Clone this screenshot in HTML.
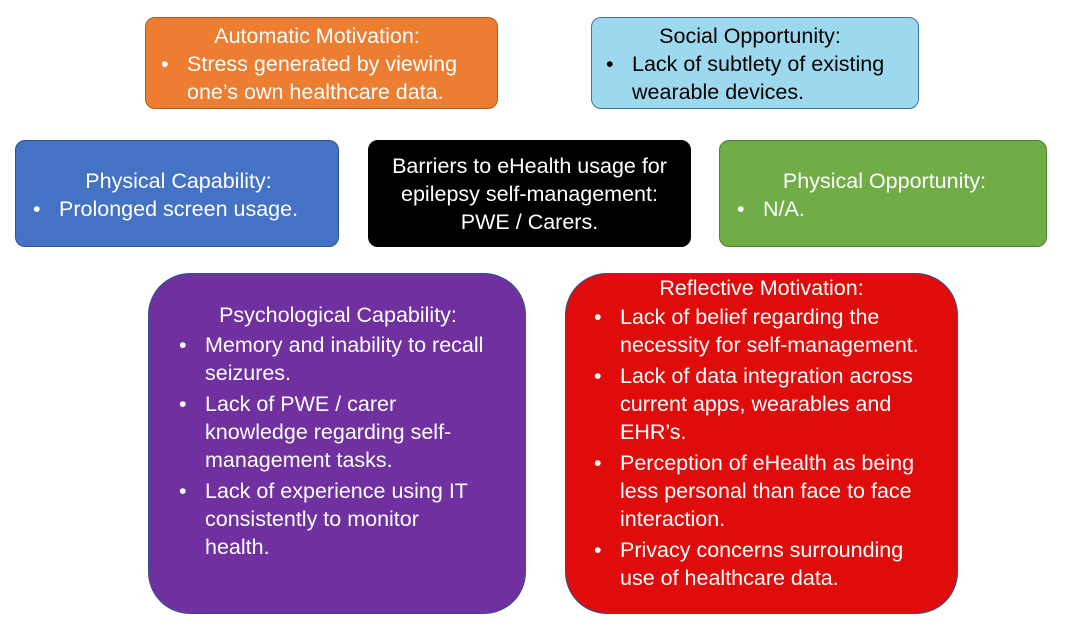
<!DOCTYPE html>
<html><head><meta charset="utf-8"><style>
body{margin:0;width:1072px;height:632px;background:#fff;position:relative;overflow:hidden;font-family:"Liberation Sans",sans-serif;}
.b{position:absolute;box-sizing:border-box;color:#fff;font-size:21.5px;line-height:28px;border:1.5px solid #2f528f;white-space:nowrap;}
.t{text-align:center;}
ul{margin:0;padding:0;list-style:none;}
li{position:relative;padding-left:40px;}
li+li{margin-top:3px;}
li:before{content:"•";position:absolute;left:14px;}
</style></head><body>
<div class="b" style="left:145px;top:17px;width:353px;height:92px;background:#ED7D31;border-color:#ae5a21;border-radius:10px;padding:4px 10px 0 1px;">
<div class="t">Automatic Motivation:</div>
<ul><li>Stress generated by viewing<br>one’s own healthcare data.</li></ul></div>
<div class="b" style="left:591px;top:17px;width:328px;height:92px;background:#9DD9EE;color:#000;border-color:#41719c;border-radius:10px;padding:4px 10px 0 0;">
<div class="t">Social Opportunity:</div>
<ul><li>Lack of subtlety of existing<br>wearable devices.</li></ul></div>
<div class="b" style="left:15px;top:140px;width:324px;height:107px;background:#4472C4;border-radius:10px;padding:26px 0 0 3px;">
<div class="t">Physical Capability:</div>
<ul><li>Prolonged screen usage.</li></ul></div>
<div class="b" style="left:368px;top:140px;width:323px;height:107px;background:#000;border-color:#000;border-radius:10px;padding:11px 0 0 0;">
<div class="t">Barriers to eHealth usage for<br>epilepsy self-management:<br>PWE / Carers.</div></div>
<div class="b" style="left:719px;top:140px;width:328px;height:107px;background:#70AD47;border-color:#507e32;border-radius:10px;padding:26px 0 0 3px;">
<div class="t">Physical Opportunity:</div>
<ul><li>N/A.</li></ul></div>
<div class="b" style="left:148px;top:273px;width:378px;height:341px;background:#7030A0;border-color:#2f528f;border-radius:42px;padding:27px 14px 0 16px;">
<div class="t" style="margin-bottom:2px">Psychological Capability:</div>
<ul><li>Memory and inability to recall<br>seizures.</li><li>Lack of PWE / carer<br>knowledge regarding self-<br>management tasks.</li><li>Lack of experience using IT<br>consistently to monitor<br>health.</li></ul></div>
<div class="b" style="left:565px;top:273px;width:393px;height:341px;background:#E00B0B;border-color:#2f528f;border-radius:42px;padding:0 14px 0 14px;">
<div class="t" style="margin-bottom:1px">Reflective Motivation:</div>
<ul><li>Lack of belief regarding the<br>necessity for self-management.</li><li>Lack of data integration across<br>current apps, wearables and<br>EHR’s.</li><li>Perception of eHealth as being<br>less personal than face to face<br>interaction.</li><li>Privacy concerns surrounding<br>use of healthcare data.</li></ul></div>
</body></html>
